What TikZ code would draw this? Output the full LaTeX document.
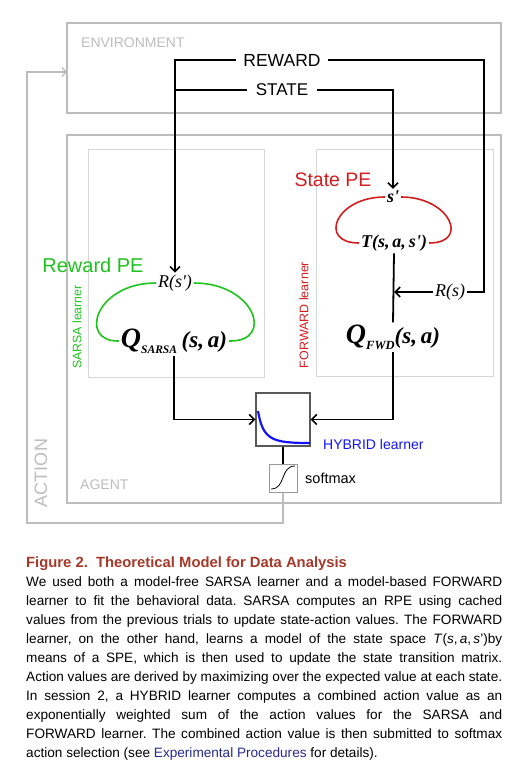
\documentclass[tikz,border=0pt]{standalone}
\usepackage{fontspec}
\setmainfont{Liberation Sans}
\newfontfamily\timesfont{Liberation Serif}
\usetikzlibrary{arrows.meta,positioning}
\definecolor{boxgray}{HTML}{BDBDBD}
\definecolor{innergray}{HTML}{D6D6D6}
\definecolor{pegreen}{HTML}{1EC31E}
\definecolor{pered}{HTML}{D21E1E}
\definecolor{hybblue}{HTML}{1414F5}
\definecolor{figred}{HTML}{A5392A}
\definecolor{linkblue}{HTML}{2A2A8C}
\newcommand{\fsz}[1]{\fontsize{#1}{#1}\selectfont}
\newcommand{\mbi}[1]{{\timesfont\bfseries\itshape #1}}
\tikzset{
	outerbox/.style={draw=boxgray, line width=1.5pt, inner sep=0pt},
	innerbox/.style={draw=innergray, line width=1pt, inner sep=0pt},
	plain/.style={line width=1.8pt},
	flow/.style={plain, -{Straight Barb[length=5pt,width=10pt,line width=1.6pt]}},
	grayflow/.style={draw=boxgray, line width=1.5pt, -{Straight Barb[length=4pt,width=9pt,line width=1.3pt]}},
	graylabel/.style={text=boxgray, inner sep=0pt},
	mathlabel/.style={inner sep=2pt, font=\timesfont\fsz{18}},
	peloop/.style={line width=1.6pt}
}
\begin{document}
\begin{tikzpicture}[x=1pt,y=-1pt]
	\useasboundingbox (0,0) rectangle (522,767);
	\node[outerbox, minimum width=434pt, minimum height=90pt] (env) at (284,68) {};
	\node[outerbox, minimum width=434pt, minimum height=368pt] (agent) at (284,319) {};
	\node[innerbox, minimum width=176pt, minimum height=227pt] (sarsabox) at (176,263.5) {};
	\node[innerbox, minimum width=177pt, minimum height=226pt] (fwdbox) at (404.5,263) {};
	\node[graylabel, anchor=west, font=\fsz{14}] (envlab) at (81,43) {ENVIRONMENT};
	\node[graylabel, anchor=west, font=\fsz{14}] (agentlab) at (80,485) {AGENT};
	\node[graylabel, rotate=90, font=\fsz{18}] (actlab) at (41,473) {ACTION};
	\node[font=\fsz{17.5}, inner sep=7pt] (rew) at (282,60) {REWARD};
	\node[font=\fsz{17}, inner sep=9pt] (st) at (282,90) {STATE};
	\node[text=pered, font=\fsz{19.5}, inner sep=0pt] (statepe) at (333,180) {State PE};
	\node[text=pegreen, font=\fsz{20}, inner sep=0pt] (rewardpe) at (93,265) {Reward PE};
	\node[text=pegreen, rotate=90, font=\fsz{12.3}, inner sep=0pt] (sarsalab) at (77,327) {SARSA learner};
	\node[text=pered, rotate=90, font=\fsz{12.5}, inner sep=0pt] (fwdlab) at (304,315) {FORWARD learner};
	\node[mathlabel] (sp) at (393,197) {\mbi{s'}};
	\node[mathlabel] (tsa) at (394,243) {\mbi{T(s,\,a,\,s')}};
	\node[mathlabel, font=\timesfont\itshape\fsz{18}] (rsp) at (175,283) {R(s')};
	\node[mathlabel, font=\timesfont\itshape\fsz{18}] (rs) at (450,292) {R(s)};
	\node[mathlabel] (qs) at (174,341) {\mbi{\fsz{28}Q\raisebox{-6pt}{\fsz{11.5}SARSA}\,\fsz{23}(s,\,a)}};
	\node[mathlabel] (qf) at (393,337) {\mbi{\fsz{28}Q\raisebox{-6pt}{\fsz{12.5}FWD}\fsz{23}(s,\,a)}};
	\node[draw=black!65, line width=1.3pt, minimum width=54pt, minimum height=53pt, inner sep=0pt] (hyb) at (283,419.5) {};
	\node[draw=black!40, line width=1pt, minimum width=28pt, minimum height=28pt, inner sep=0pt] (soft) at (283,478) {};
	\node[text=hybblue, anchor=west, font=\fsz{14}, inner sep=0pt] (hyblab) at (323,444) {HYBRID learner};
	\node[anchor=west, font=\fsz{14.5}, inner sep=0pt] (softlab) at (305,478) {softmax};
	\coordinate (rright) at (484,0);
	\coordinate (actcorner) at (27,523);
	\coordinate (actin) at (67,72);
	\draw[flow] (rew.west) -| (rsp.north);
	\draw[plain] (rew.east) -- (rew.east -| rright) |- (rs.east);
	\draw[plain] (st.west) -- (st.west -| rsp.north);
	\draw[flow] (st.east) -| (sp.north);
	\draw[flow] (rs.west) -- (rs.west -| tsa.south);
	\draw[plain] (tsa.south) -- (qf.north);
	\draw[flow] (qs.south) |- (hyb.west);
	\draw[flow] (qf.south) |- (hyb.east);
	\draw[plain, line width=1.5pt] (hyb.south) -- (soft.north);
	\draw[grayflow] (soft.south) |- (actcorner) |- (actin);
	\draw[peloop, pegreen] (rsp.west) .. controls (95,283) and (78,342) .. (qs.west);
	\draw[peloop, pegreen] (rsp.east) .. controls (255,283) and (275,342) .. (qs.east);
	\draw[peloop, pered] (sp.west) .. controls (335,197) and (318,243) .. (tsa.west);
	\draw[peloop, pered] (sp.east) .. controls (450,197) and (470,243) .. (tsa.east);
	\draw[hybblue, line width=2.2pt] (258,411) .. controls (263,440) and (272,443) .. (310,443);
	\draw[line width=0.8pt] (271,489) .. controls (286,489) and (280,466) .. (295,466);
	\node[anchor=north west, inner sep=0pt, text=figred, font=\bfseries\fsz{14.8}] (figtitle) at (26,557) {Figure 2.\ \ Theoretical Model for Data Analysis};
	\node[anchor=north west, inner sep=0pt, text width=476pt, align=justify, font=\fontsize{13.6}{19}\selectfont\frenchspacing] (figtext) at (26,576) {We used both a model-free SARSA learner and a model-based FORWARD\linebreak
	learner to fit the behavioral data. SARSA computes an RPE using cached\linebreak
	values from the previous trials to update state-action values. The FORWARD\linebreak
	learner, on the other hand, learns a model of the state space \textit{T}(\textit{s},\,\textit{a},\,\textit{s}')by\linebreak
	means of a SPE, which is then used to update the state transition matrix.\linebreak
	Action values are derived by maximizing over the expected value at each state.\linebreak
	In session 2, a HYBRID learner computes a combined action value as an\linebreak
	exponentially weighted sum of the action values for the SARSA and\linebreak
	FORWARD learner. The combined action value is then submitted to softmax\linebreak
	action selection (see \textcolor{linkblue}{Experimental Procedures} for details).};
\end{tikzpicture}
\end{document}
